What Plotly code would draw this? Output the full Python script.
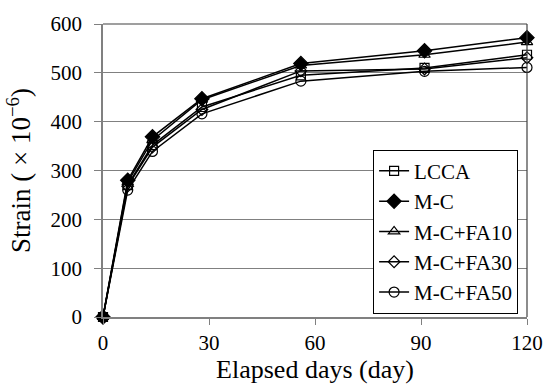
import plotly.graph_objects as go

days = [0, 7, 14, 28, 56, 91, 120]
lcca = [0, 270, 352, 430, 495, 510, 537]
mc = [0, 280, 369, 447, 519, 545, 572]
fa10 = [0, 276, 362, 445, 515, 537, 563]
fa30 = [0, 268, 348, 425, 504, 508, 531]
fa50 = [0, 260, 339, 416, 483, 503, 511]

series = [
    ("LCCA", lcca, "square-open", 9),
    ("M-C", mc, "diamond", 11),
    ("M-C+FA10", fa10, "triangle-up-open", 10),
    ("M-C+FA30", fa30, "diamond-open", 9),
    ("M-C+FA50", fa50, "circle-open", 10),
]

fig = go.Figure()
for i, (name, vals, sym, size) in enumerate(series):
    fig.add_trace(go.Scatter(
        x=days, y=vals, name=name, mode="lines+markers",
        line=dict(color="black", width=1.5),
        marker=dict(symbol=sym, size=size, color="black",
                    line=dict(color="black", width=1.2)),
        cliponaxis=False, legendgroup=f"g{i}",
    ))

font = "Liberation Serif"
fig.update_layout(
    width=555, height=392,
    margin=dict(l=103, r=20, t=21, b=75),
    paper_bgcolor="white", plot_bgcolor="white",
    font=dict(family=font, size=20, color="black"),
    showlegend=True,
    legend=dict(x=0.637, y=0.571, xanchor="left", yanchor="top",
                bordercolor="black", borderwidth=1, bgcolor="white",
                font=dict(family=font, size=21), tracegroupgap=0,
                itemwidth=30),
    xaxis=dict(range=[0, 120], tickvals=[0, 30, 60, 90, 120],
               showgrid=False, zeroline=False, showline=True,
               linecolor="#808080", linewidth=1.5, mirror=False,
               ticks="outside", ticklen=6, tickcolor="#808080",
               title=dict(text="Elapsed days (day)", font=dict(size=26), standoff=4),
               tickfont=dict(size=21)),
    yaxis=dict(range=[0, 600], tickvals=[0, 100, 200, 300, 400, 500, 600],
               showgrid=True, gridcolor="#808080", gridwidth=1,
               zeroline=False, showline=True, linecolor="#808080", linewidth=1.5,
               ticks="outside", ticklen=7, tickcolor="#808080",
               ticklabelstandoff=8,
               title=dict(text="Strain ( × 10<sup>−6</sup>)", font=dict(size=27), standoff=12),
               tickfont=dict(size=21)),
)
# top and right borders
fig.add_shape(type="line", xref="paper", yref="paper", x0=0, x1=1, y0=1, y1=1,
              line=dict(color="#404040", width=1.2))
fig.add_shape(type="line", xref="paper", yref="paper", x0=1, x1=1, y0=0, y1=1,
              line=dict(color="#404040", width=1.2))

fig.write_html("out.html")
